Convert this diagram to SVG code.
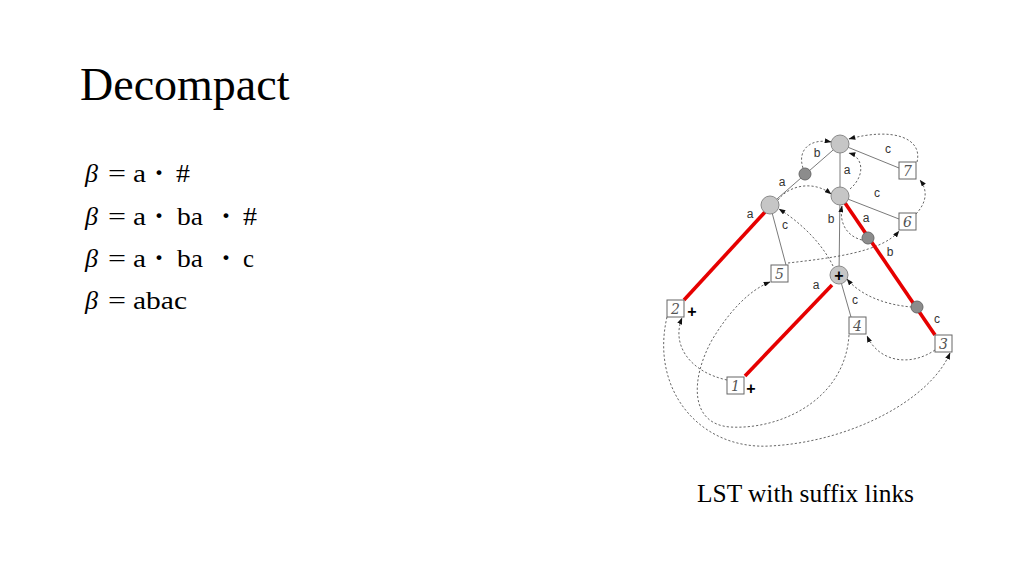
<svg xmlns="http://www.w3.org/2000/svg" width="1024" height="576" viewBox="0 0 1024 576">
<style>
.serif{font-family:"Liberation Serif","Times New Roman",serif;fill:#000}
.title{font-size:46px}
.f{font-size:25px}
.beta{font-size:26px;font-style:italic}
.dot{font-size:30px;font-weight:bold;text-anchor:middle}
.cap{font-size:25px}
.edge{stroke:#7a7a7a;stroke-width:1;fill:none}
.red{stroke:#e60000;stroke-width:3.6;fill:none;stroke-linecap:butt}
.link{stroke:#555;stroke-width:0.9;fill:none;stroke-dasharray:2.2 2;marker-end:url(#ah)}
.node{fill:#c6c6c6;stroke:#8a8a8a;stroke-width:1}
.dark{fill:#8c8c8c;stroke:#6a6a6a;stroke-width:1}
.box{fill:#fff;stroke:#666;stroke-width:1}
.num{font-family:"DejaVu Serif","Liberation Serif",serif;font-style:italic;font-size:14px;fill:#555;text-anchor:middle}
.lbl{font-family:"Liberation Sans",Arial,sans-serif;font-size:12px;fill:#333;text-anchor:middle}
.plus{font-family:"Liberation Sans",Arial,sans-serif;font-size:16px;font-weight:bold;fill:#000;text-anchor:middle}
</style>
<defs>
<marker id="ah" viewBox="0 0 8 6" refX="7.5" refY="3" markerWidth="7" markerHeight="5" markerUnits="userSpaceOnUse" orient="auto">
<path d="M0,0 L8,3 L0,6 Z" fill="#111"/>
</marker>
</defs>
<rect width="1024" height="576" fill="#fff"/>

<text class="serif title" x="80" y="100">Decompact</text>

<g id="formulas">
<text class="serif beta" x="85" y="182">β</text>
<text class="serif f" x="108" y="182" textLength="18" lengthAdjust="spacingAndGlyphs">=</text>
<text class="serif f" x="133" y="182" textLength="13" lengthAdjust="spacingAndGlyphs">a</text>
<text class="serif dot" x="159" y="182">·</text>
<text class="serif f" x="176" y="182" textLength="14" lengthAdjust="spacingAndGlyphs">#</text>

<text class="serif beta" x="85" y="225">β</text>
<text class="serif f" x="108" y="225" textLength="18" lengthAdjust="spacingAndGlyphs">=</text>
<text class="serif f" x="133" y="225" textLength="13" lengthAdjust="spacingAndGlyphs">a</text>
<text class="serif dot" x="159" y="225">·</text>
<text class="serif f" x="177" y="225" textLength="26" lengthAdjust="spacingAndGlyphs">ba</text>
<text class="serif dot" x="226" y="225">·</text>
<text class="serif f" x="243" y="225" textLength="14" lengthAdjust="spacingAndGlyphs">#</text>

<text class="serif beta" x="85" y="267">β</text>
<text class="serif f" x="108" y="267" textLength="18" lengthAdjust="spacingAndGlyphs">=</text>
<text class="serif f" x="133" y="267" textLength="13" lengthAdjust="spacingAndGlyphs">a</text>
<text class="serif dot" x="159" y="267">·</text>
<text class="serif f" x="177" y="267" textLength="26" lengthAdjust="spacingAndGlyphs">ba</text>
<text class="serif dot" x="226" y="267">·</text>
<text class="serif f" x="243" y="267" textLength="11" lengthAdjust="spacingAndGlyphs">c</text>

<text class="serif beta" x="85" y="309">β</text>
<text class="serif f" x="108" y="309" textLength="18" lengthAdjust="spacingAndGlyphs">=</text>
<text class="serif f" x="133" y="309" textLength="54" lengthAdjust="spacingAndGlyphs">abac</text>
</g>

<g id="tree-edges">
<line class="edge" x1="840" y1="144" x2="770" y2="205"/>
<line class="edge" x1="840" y1="144" x2="899" y2="168"/>
<line class="edge" x1="840" y1="144" x2="840" y2="196"/>
<line class="edge" x1="840" y1="196" x2="899" y2="219"/>
<line class="edge" x1="840" y1="196" x2="839" y2="275"/>
<line class="edge" x1="770" y1="205" x2="786" y2="265"/>
<line class="edge" x1="839" y1="275" x2="851" y2="317"/>
</g>

<g id="suffix-links">
<path class="link" d="M803,168 C797,150 810,138 831,142"/>
<path class="link" d="M917,162 C923,138 893,127 849,139"/>
<path class="link" d="M850,189 C866,175 863,157 849,153"/>
<path class="link" d="M916,214 C928,201 927,189 920,180"/>
<path class="link" d="M778,200 C790,184 815,181 831,194"/>
<path class="link" d="M833,266 C822,243 800,222 779,209"/>
<path class="link" d="M788,263 C832,258 882,252 899,231"/>
<path class="link" d="M862,240 C846,236 839,222 842,206"/>
<path class="link" d="M912,307 C885,305 860,295 847,279"/>
<path class="link" d="M935,350 C910,367 879,362 867,336"/>
<path class="link" d="M727,380 C690,372 671,345 682,318"/>
<path class="link" d="M667,317 C650,390 700,450 770,446 C850,442 930,400 950,353"/>
<path class="link" d="M849,335 C845,400 780,430 730,427 C690,424 690,380 712,340 C730,310 750,290 770,282"/>
</g>

<g id="red-paths">
<line class="red" x1="765" y1="212" x2="684" y2="300"/>
<line class="red" x1="745" y1="376" x2="832" y2="285"/>
<line class="red" x1="845" y1="203" x2="935" y2="335"/>
</g>

<g id="node-root"><circle class="node" cx="840" cy="144" r="9"/></g>
<g id="node-d1"><circle class="dark" cx="805" cy="174" r="6"/></g>
<g id="node-left"><circle class="node" cx="770" cy="205" r="9"/></g>
<g id="node-mid"><circle class="node" cx="840" cy="196" r="9"/></g>
<g id="node-plus"><circle class="node" cx="839" cy="275" r="9"/><text class="plus" x="839" y="281">+</text></g>
<g id="node-d2"><circle class="dark" cx="868" cy="238" r="6"/></g>
<g id="node-d3"><circle class="dark" cx="917" cy="307" r="6"/></g>

<g id="leaf-7"><rect class="box" x="899" y="162" width="17" height="17"/><text class="num" x="907.5" y="176">7</text></g>
<g id="leaf-6"><rect class="box" x="899" y="213" width="17" height="17"/><text class="num" x="907.5" y="227">6</text></g>
<g id="leaf-5"><rect class="box" x="771" y="265" width="17" height="17"/><text class="num" x="779.5" y="279">5</text></g>
<g id="leaf-4"><rect class="box" x="849" y="317" width="17" height="17"/><text class="num" x="857.5" y="331">4</text></g>
<g id="leaf-3"><rect class="box" x="935" y="335" width="17" height="17"/><text class="num" x="943.5" y="349">3</text></g>
<g id="leaf-2"><rect class="box" x="667" y="300" width="17" height="17"/><text class="num" x="675.5" y="314">2</text><text class="plus" x="692" y="317">+</text></g>
<g id="leaf-1"><rect class="box" x="727" y="377" width="17" height="17"/><text class="num" x="735.5" y="391">1</text><text class="plus" x="751" y="394">+</text></g>

<g id="edge-labels">
<text class="lbl" x="817" y="157">b</text>
<text class="lbl" x="888" y="153">c</text>
<text class="lbl" x="847" y="174">a</text>
<text class="lbl" x="782" y="186">a</text>
<text class="lbl" x="877" y="197">c</text>
<text class="lbl" x="750" y="218">a</text>
<text class="lbl" x="831" y="223">b</text>
<text class="lbl" x="866" y="222">a</text>
<text class="lbl" x="785" y="229">c</text>
<text class="lbl" x="890" y="256">b</text>
<text class="lbl" x="816" y="289">a</text>
<text class="lbl" x="855" y="304">c</text>
<text class="lbl" x="937" y="323">c</text>
</g>

<text class="serif cap" x="697" y="502" textLength="217" lengthAdjust="spacingAndGlyphs">LST with suffix links</text>
</svg>
